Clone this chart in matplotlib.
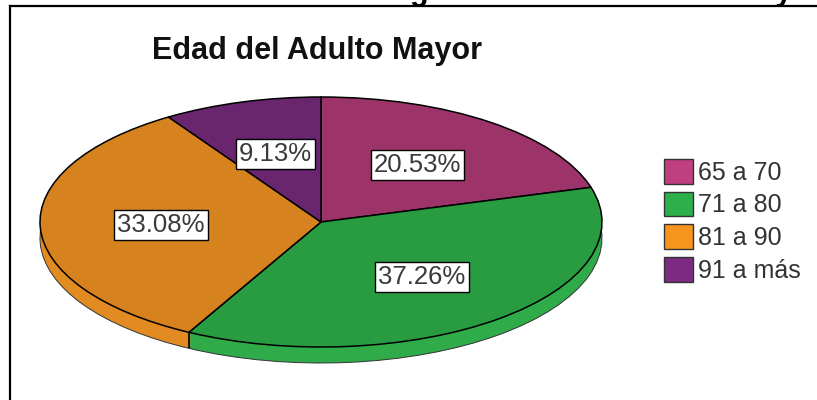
import numpy as np
import matplotlib
matplotlib.use("Agg")
import matplotlib.pyplot as plt
from matplotlib.patches import Patch
from matplotlib.lines import Line2D

plt.rcParams["font.family"] = ["Liberation Sans", "DejaVu Sans"]

# age groups and their share of the sample
categories = ["65 a 70", "71 a 80", "81 a 90", "91 a más"]
percentages = [20.53, 37.26, 33.08, 9.13]

top_colors = ["#9c3469", "#299b40", "#d5821f", "#69256e"]
side_colors = ["#a8386f", "#2fab49", "#e28b22", "#70287a"]
legend_colors = ["#bf3f80", "#2db04b", "#f7941e", "#7b2c82"]

W, H = 817, 400
fig = plt.figure(figsize=(W / 100, H / 100), dpi=100)
fig.patch.set_facecolor("white")

# pie axes: unit circle is stretched into an ellipse (tilted disc look)
cx, cy, rx, ry = 321, 222, 281, 125
depth = 16 / ry
ax = fig.add_axes([0, 0, 1, 1])

# outline along the bottom rim, then the side as stacked shifted copies
ax.pie(percentages, colors=side_colors, startangle=90, counterclock=False,
       center=(0, -depth), radius=1,
       wedgeprops=dict(edgecolor="#333333", linewidth=0.7))
for k in np.linspace(depth, 0, 17)[:-1]:
    ax.pie(percentages, colors=side_colors, startangle=90, counterclock=False,
           center=(0, -k + 0.006), radius=0.996,
           wedgeprops=dict(edgecolor="none", linewidth=0))

# slice boundaries running down the visible side
bounds = 90 - 360 * np.cumsum(percentages) / 100
for a in bounds:
    t = np.deg2rad(a)
    if np.sin(t) < 0:
        ax.plot([np.cos(t)] * 2, [np.sin(t), np.sin(t) - depth],
                color="black", lw=1.2, solid_capstyle="butt")

wedges, _, autotexts = ax.pie(
    percentages, colors=top_colors, startangle=90, counterclock=False,
    autopct="%.2f%%", pctdistance=0.57,
    wedgeprops=dict(edgecolor="black", linewidth=1.1),
    textprops=dict(fontsize=18.5, color="#3a3a3a"))
for t in autotexts:
    t.set_bbox(dict(facecolor="white", edgecolor="black", linewidth=1,
                    boxstyle="square,pad=0.12"))

ax.set_aspect("auto")
ax.set_xlim((0 - cx) / rx, (W - cx) / rx)
ax.set_ylim((cy - H) / ry, (cy - 0) / ry)
ax.axis("off")

fig.text(152 / W, 1 - 51 / H, "Edad del Adulto Mayor", fontsize=22,
         fontweight="bold", ha="left", va="center", color="#111111")

handles = [Patch(facecolor=c, edgecolor="#333333", linewidth=1) for c in legend_colors]
fig.legend(handles, categories, loc="upper left", bbox_to_anchor=(664 / W, 1 - 159 / H),
           frameon=False, fontsize=18, handlelength=1.15, handleheight=1.15,
           handletextpad=0.2, labelspacing=0.27, borderpad=0, borderaxespad=0,
           labelcolor="#333333")

# chart frame and the document heading that runs off the top
fig.add_artist(Line2D([10 / W, 10 / W], [0, 1 - 6 / H], color="black", lw=1.6,
                      transform=fig.transFigure))
fig.add_artist(Line2D([10 / W, 1], [1 - 6 / H, 1 - 6 / H], color="black", lw=1.6,
                      transform=fig.transFigure))
fig.text(823 / W, 1.0, "Gráfico N° 1: Rango de edad del adulto Mayor",
         fontsize=22, fontweight="bold", ha="right", va="baseline", color="black")

fig.savefig("out.png", dpi=100)
